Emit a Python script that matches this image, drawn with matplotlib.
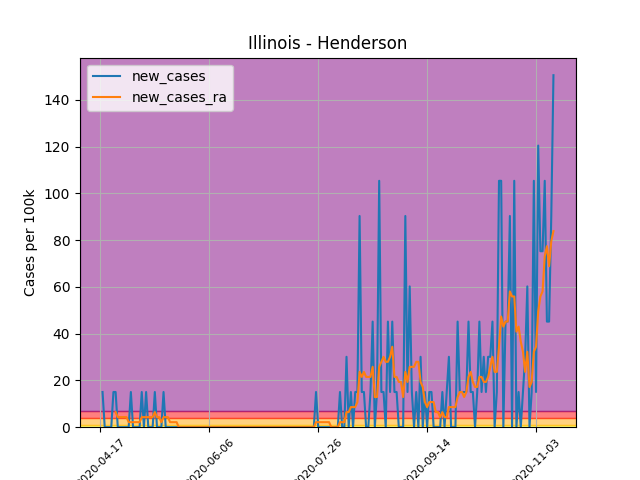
import numpy as np
import pandas as pd
import matplotlib
matplotlib.use("Agg")
import matplotlib.pyplot as plt

nan = np.nan

start_date = "2020-04-18"

new_cases = [
    15.05, 0, 0, 0, 0, 15.05, 15.05, 0, 0, 0,
    0, 0, 0, 15.05, 0, 0, 0, 0, 15.05, 0,
    15.05, 0, 0, 0, 15.05, 0, 0, 0, 15.05, 0,
    0, 0, 0, 0, 0, 0, 0, 0, 0, 0,
    0, 0, 0, 0, 0, 0, 0, 0, 0, 0,
    0, 0, 0, 0, 0, 0, 0, 0, 0, 0,
    0, 0, 0, 0, 0, 0, 0, 0, 0, 0,
    0, 0, 0, 0, 0, 0, 0, 0, 0, 0,
    0, 0, 0, 0, 0, 0, 0, 0, 0, 0,
    0, 0, 0, 0, 0, 0, 0, 0, 15.05, 0,
    0, 0, 0, 0, 0, 0, 0, 0, 0, 15.05,
    0, 0, 30.1, 0, 15.05, 0, 15.05, 15.05, 90.3, 15.05,
    15.05, 0, 0, 15.05, 45.15, 0, 15.05, 105.35, 15.05, 15.05,
    0, 45.15, 15.05, 45.15, 15.05, 15.05, 0, 0, 0, 90.3,
    15.05, 60.2, 15.05, 0, 15.05, 0, 30.1, 0, 15.05, 0,
    15.05, 15.05, 0, 0, 0, 0, 15.05, 0, 15.05, 30.1,
    0, 0, 0, 45.15, 15.05, 15.05, 15.05, 15.05, 45.15, 15.05,
    15.05, 0, 15.05, 45.15, 15.05, 30.1, 15.05, 30.1, 30.1, 45.15,
    0, 15.05, 105.35, 105.35, 0, 45.15, 45.15, 90.3, 0, 105.35,
    0, 15.05, 0, 15.05, 30.1, 60.2, 0, 15.05, 105.35, 15.05,
    120.4, 75.25, 75.25, 105.35, 45.15, 45.15, 90.3, 150.5,
]

new_cases_ra = [
    nan, nan, nan, nan, nan, nan, 6.45, 4.3, 4.3, 4.3,
    4.3, 4.3, 2.15, 2.15, 2.15, 2.15, 2.15, 2.15, 4.3, 4.3,
    4.3, 4.3, 4.3, 4.3, 6.45, 4.3, 4.3, 2.15, 4.3, 4.3,
    4.3, 2.15, 2.15, 2.15, 2.15, 0, 0, 0, 0, 0,
    0, 0, 0, 0, 0, 0, 0, 0, 0, 0,
    0, 0, 0, 0, 0, 0, 0, 0, 0, 0,
    0, 0, 0, 0, 0, 0, 0, 0, 0, 0,
    0, 0, 0, 0, 0, 0, 0, 0, 0, 0,
    0, 0, 0, 0, 0, 0, 0, 0, 0, 0,
    0, 0, 0, 0, 0, 0, 0, 0, 2.15, 2.15,
    2.15, 2.15, 2.15, 2.15, 2.15, 0, 0, 0, 0, 2.15,
    2.15, 2.15, 6.45, 6.45, 8.6, 8.6, 8.6, 10.75, 23.65, 21.5,
    23.65, 21.5, 21.5, 21.5, 25.8, 12.9, 12.9, 25.8, 27.95, 30.1,
    27.95, 27.95, 30.1, 34.4, 21.5, 21.5, 19.35, 19.35, 12.9, 23.65,
    19.35, 25.8, 25.8, 25.8, 27.95, 27.95, 19.35, 17.2, 10.75, 8.6,
    10.75, 10.75, 10.75, 6.45, 6.45, 4.3, 6.45, 4.3, 4.3, 8.6,
    8.6, 8.6, 8.6, 12.9, 15.05, 15.05, 12.9, 15.05, 21.5, 23.65,
    19.35, 17.2, 17.2, 21.5, 21.5, 19.35, 19.35, 21.5, 25.8, 30.1,
    23.65, 23.65, 34.4, 47.3, 43.0, 45.15, 45.15, 58.05, 55.9, 55.9,
    40.85, 43.0, 36.55, 32.25, 23.65, 32.25, 17.2, 19.35, 32.25, 34.4,
    49.45, 55.9, 58.05, 73.1, 77.4, 68.8, 79.55, 83.85,
]

tick_labels = ["2020-04-17", "2020-06-06", "2020-07-26", "2020-09-14", "2020-11-03"]

# risk band levels (cases per 100k)
band_edges = [0, 1, 4, 7, 1000]
band_colors = ["yellow", "orange", "red", "purple"]

dates = pd.date_range(start_date, periods=len(new_cases), freq="D")

fig, ax = plt.subplots(figsize=(6.4, 4.8), dpi=100)

for lo, hi, col in zip(band_edges[:-1], band_edges[1:], band_colors):
    ax.axhspan(lo, hi, color=col, alpha=0.5)

ax.plot(dates, new_cases, label="new_cases")
ax.plot(dates, new_cases_ra, label="new_cases_ra")

ax.set_ylim(0, max(new_cases) * 1.05)
ax.set_xlim(dates[0] - (dates[-1] - dates[0]) * 0.05,
            dates[-1] + (dates[-1] - dates[0]) * 0.05)

ticks = pd.to_datetime(tick_labels)
ax.set_xticks(ticks)
ax.set_xticklabels(tick_labels, rotation=45, fontsize=8)

ax.grid(True)
ax.set_title("Illinois - Henderson")
ax.set_ylabel("Cases per 100k")
ax.legend(loc="upper left")

fig.savefig("out.png", dpi=100)
